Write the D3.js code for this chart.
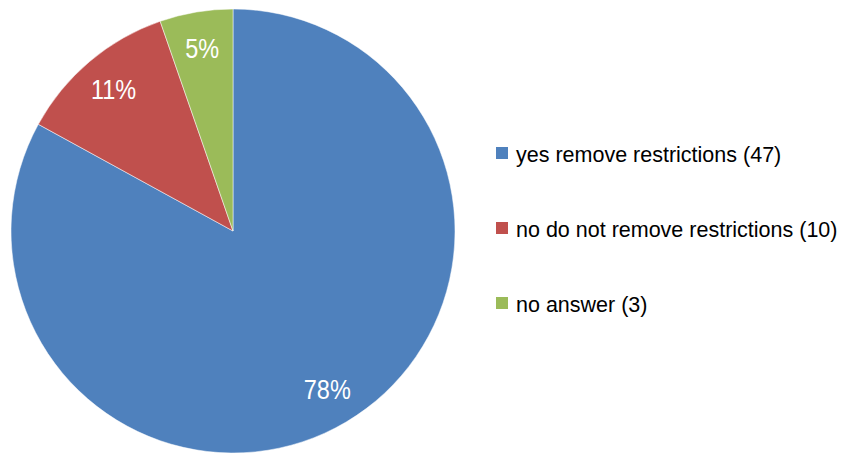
<!DOCTYPE html>
<html>
<head>
<meta charset="utf-8">
<script src="https://cdn.jsdelivr.net/npm/d3@7"></script>
<style>
  body { margin: 0; background: #fff; }
  text { font-family: "Liberation Sans Narrow", "Arial Narrow", "Liberation Sans", Arial, sans-serif; }
</style>
</head>
<body>
<svg width="844" height="454"></svg>
<script>
const categories = ["yes remove restrictions (47)", "no do not remove restrictions (10)", "no answer (3)"];
const percentValues = [78, 11, 5];
const colors = ["#4F81BD", "#C0504D", "#9BBB59"];

const svg = d3.select("svg");
const radius = 222;
const cx = 233;
const cy = 231;

const data = categories.map((c, i) => ({ name: c, value: percentValues[i], color: colors[i] }));

const pie = d3.pie().value((d) => d.value).sort(null);
const arc = d3.arc().innerRadius(0).outerRadius(radius);
const labelArc = d3.arc().innerRadius(185).outerRadius(185);

const g = svg.append("g").attr("transform", `translate(${cx}, ${cy})`);

g.selectAll("path")
  .data(pie(data))
  .enter()
  .append("path")
  .attr("d", arc)
  .attr("fill", (d) => d.data.color)
  .attr("stroke", "#fff")
  .attr("stroke-width", 0.5);

// percent labels, squeezed a bit to look like the narrow font
g.selectAll("text.lbl")
  .data(pie(data))
  .enter()
  .append("text")
  .attr("class", "lbl")
  .attr("transform", (d) => `translate(${labelArc.centroid(d)}) scale(0.84, 1)`)
  .attr("text-anchor", "middle")
  .attr("dy", "0.33em")
  .attr("fill", "#fff")
  .style("font-size", "28px")
  .text((d) => d.data.value + "%");

// legend
const legend = svg.append("g").attr("transform", "translate(496, 162)");

const rows = legend.selectAll("g")
  .data(data)
  .enter()
  .append("g")
  .attr("transform", (d, i) => `translate(0, ${i * 75})`);

rows.append("rect")
  .attr("x", 0)
  .attr("y", -15)
  .attr("width", 12)
  .attr("height", 12)
  .attr("fill", (d) => d.color);

rows.append("text")
  .attr("x", 20)
  .attr("y", 0)
  .attr("fill", "#000")
  .style("font-size", "21.5px")
  .text((d) => d.name);
</script>
</body>
</html>
